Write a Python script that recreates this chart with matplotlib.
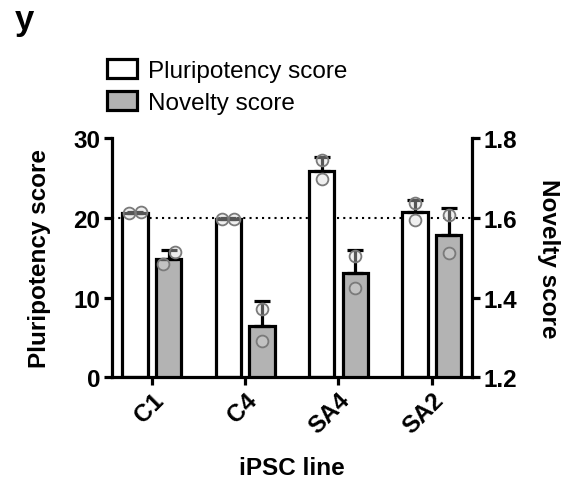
import matplotlib
matplotlib.use('Agg')
import matplotlib.pyplot as plt
import matplotlib.transforms as mtrans
import numpy as np
from matplotlib.patches import Patch

plt.rcParams['font.family'] = ['Liberation Sans', 'DejaVu Sans']

lines = ['C1', 'C4', 'SA4', 'SA2']

pluri_mean = [20.6, 19.9, 25.9, 20.8]
pluri_sd = [0.1, 0.1, 1.8, 1.5]
pluri_pts = [[20.6, 20.7], [19.9, 19.9], [27.3, 24.9], [21.9, 19.75]]

novel_mean = [1.497, 1.328, 1.462, 1.556]
novel_sd = [0.022, 0.062, 0.058, 0.070]
novel_pts = [[1.484, 1.514], [1.372, 1.290], [1.504, 1.424], [1.608, 1.512]]

lw = 2.3
grey = '#b3b3b3'
fs = 17.5


def spread(vals, thresh, dx=0.065):
    # side by side when the points would overlap
    if abs(vals[0] - vals[1]) < thresh:
        return [-dx, dx]
    return [0.0, 0.0]


fig = plt.figure(figsize=(5.67, 4.85), dpi=100)
ax = fig.add_axes([0.197, 0.2206, 0.636, 0.4918])
ax2 = ax.twinx()

x = np.arange(len(lines))
off = 0.18
w = 0.27

ax.axhline(20, color='black', linestyle=(0, (1, 2)), lw=1.5, zorder=0)

ax.bar(x - off, pluri_mean, width=w, color='white', edgecolor='black', lw=lw, zorder=2)
ax.errorbar(x - off, pluri_mean, yerr=[np.zeros(4), pluri_sd], fmt='none',
            ecolor='black', elinewidth=lw, capsize=5.5, capthick=lw, zorder=3)
for i, pts in enumerate(pluri_pts):
    o = spread(pts, 1.7)
    ax.plot(x[i] - off + np.array(o), pts, 'o', ms=8.5, mfc=(0.85, 0.85, 0.85, 0.4),
            mec='#7a7a7a', mew=1.3, zorder=4)

ax2.bar(x + off, np.array(novel_mean) - 1.2, bottom=1.2, width=w, color=grey,
        edgecolor='black', lw=lw, zorder=2)
ax2.errorbar(x + off, novel_mean, yerr=[np.zeros(4), novel_sd], fmt='none',
             ecolor='black', elinewidth=lw, capsize=5.5, capthick=lw, zorder=3)
for i, pts in enumerate(novel_pts):
    o = spread(pts, 0.034)
    ax2.plot(x[i] + off + np.array(o), pts, 'o', ms=8.5, mfc=(0.85, 0.85, 0.85, 0.4),
             mec='#7a7a7a', mew=1.3, zorder=4)

ax.set_xlim(-0.43, 3.435)
ax.set_ylim(0, 30)
ax2.set_ylim(1.2, 1.8)
ax.set_yticks([0, 10, 20, 30])
ax2.set_yticks([1.2, 1.4, 1.6, 1.8])
ax.set_xticks(x)
ax.set_xticklabels(lines, rotation=45, ha='right', rotation_mode='anchor',
                   fontweight='bold', fontsize=fs)
shift = mtrans.ScaledTranslation(-6 / 100, -3 / 100, fig.dpi_scale_trans)
for t in ax.get_xticklabels():
    t.set_transform(t.get_transform() + shift)
for t in ax.get_yticklabels() + ax2.get_yticklabels():
    t.set_fontweight('bold')
    t.set_fontsize(fs)

for s in ['top', 'right']:
    ax.spines[s].set_visible(False)
for s in ['top', 'left', 'bottom']:
    ax2.spines[s].set_visible(False)
ax.spines['left'].set_linewidth(lw)
ax.spines['bottom'].set_linewidth(lw)
ax2.spines['right'].set_linewidth(lw)
ax.tick_params(width=lw, length=6, pad=2)
ax2.tick_params(width=lw, length=6, pad=2)

ax.set_ylabel('Pluripotency score', fontsize=fs, fontweight='bold', labelpad=16)
ax2.set_ylabel('Novelty score', fontsize=fs, fontweight='bold', rotation=270,
               labelpad=31)
ax.set_xlabel('iPSC line', fontsize=fs, fontweight='bold', labelpad=13)

handles = [Patch(facecolor='white', edgecolor='black', lw=lw),
           Patch(facecolor=grey, edgecolor='black', lw=lw)]
fig.legend(handles, ['Pluripotency score', 'Novelty score'], loc='upper left',
           bbox_to_anchor=(107 / 567, 1 - 60 / 485), frameon=False, fontsize=fs,
           handlelength=1.25, handleheight=0.85, handletextpad=0.45,
           labelspacing=0.35, borderpad=0, borderaxespad=0)

fig.text(15 / 567, 1 - 30 / 485, 'y', fontsize=25, fontweight='bold', va='baseline')

fig.savefig('out.png', dpi=100)
